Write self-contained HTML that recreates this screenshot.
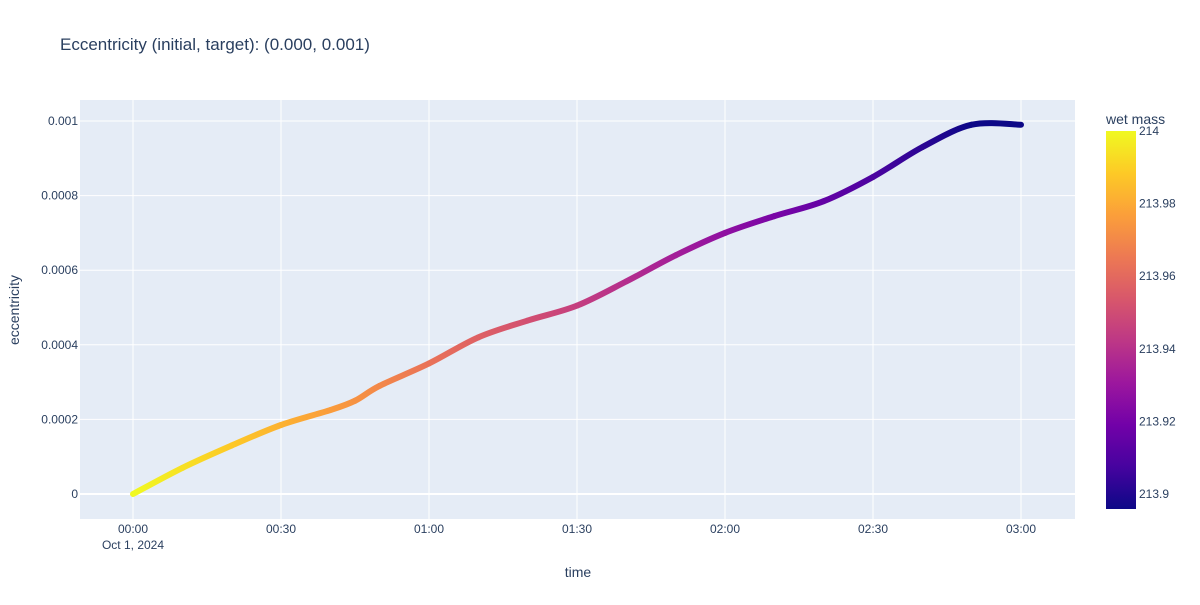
<!DOCTYPE html>
<html><head><meta charset="utf-8"><style>
body{margin:0;background:#fff;font-family:"Liberation Sans","DejaVu Sans",sans-serif}
svg text{font-family:"Liberation Sans","DejaVu Sans",sans-serif;fill:#2a3f5f}
</style></head><body>
<svg id="c" width="1200" height="600" xmlns="http://www.w3.org/2000/svg">
<defs>
<linearGradient id="cbg" x1="0" y1="1" x2="0" y2="0">
<stop offset="0" stop-color="#0d0887"/><stop offset="0.111" stop-color="#46039f"/><stop offset="0.222" stop-color="#7201a8"/><stop offset="0.333" stop-color="#9c179e"/><stop offset="0.444" stop-color="#bd3786"/><stop offset="0.556" stop-color="#d8576b"/><stop offset="0.667" stop-color="#ed7953"/><stop offset="0.778" stop-color="#fb9f3a"/><stop offset="0.889" stop-color="#fdca26"/><stop offset="1" stop-color="#f0f921"/>
</linearGradient>
</defs>
<text x="60" y="50" font-size="17">Eccentricity (initial, target): (0.000, 0.001)</text>
<rect x="80" y="100" width="995" height="419" fill="#e5ecf6"/>
<g id="grid"></g>
<g id="marks"></g>
<g id="axes"></g>
<text x="578" y="577" font-size="14" text-anchor="middle">time</text>
<text transform="translate(19,310) rotate(-90)" font-size="14" text-anchor="middle">eccentricity</text>
<text x="1106" y="124" font-size="14">wet mass</text>
<rect x="1106" y="131" width="30" height="378" fill="url(#cbg)"/>
<g id="cbticks"></g>
</svg>
<script>
const times=[0,10,20,30,40,45,50,60,70,80,90,100,110,120,130,140,150,160,170,180];
const ecc=[0,0.00007,0.00013,0.000185,0.000225,0.00025,0.00029,0.00035,0.00042,0.000465,0.000505,0.00057,0.00064,0.0007,0.000745,0.000785,0.00085,0.00093,0.00099,0.00099];
const mass=[214,213.994,213.988,213.982,213.976,213.973,213.970,213.963,213.957,213.951,213.945,213.939,213.933,213.927,213.921,213.915,213.909,213.902,213.896,213.896];
const xTickMin=[0,30,60,90,120,150,180];
const xTickLab=["00:00","00:30","01:00","01:30","02:00","02:30","03:00"];
const yTicks=[0,0.0002,0.0004,0.0006,0.0008,0.001];
const yTickLab=["0","0.0002","0.0004","0.0006","0.0008","0.001"];
const cbTicks=[213.9,213.92,213.94,213.96,213.98,214];
const cbLab=["213.9","213.92","213.94","213.96","213.98","214"];
const NS="http://www.w3.org/2000/svg";
const X=t=>133+t*(148/30);
const Y=v=>494-v*373000;
const cmin=213.8959,cmax=214;
const CB=m=>509-(m-cmin)/(cmax-cmin)*378;
const stops=["#0d0887","#46039f","#7201a8","#9c179e","#bd3786","#d8576b","#ed7953","#fb9f3a","#fdca26","#f0f921"];
function hex(h){return [1,3,5].map(i=>parseInt(h.substr(i,2),16));}
function col(m){let f=Math.max(0,Math.min(1,(m-cmin)/(cmax-cmin)))*(stops.length-1);let i=Math.min(Math.floor(f),stops.length-2),r=f-i;let a=hex(stops[i]),b=hex(stops[i+1]);return "rgb("+a.map((v,k)=>Math.round(v+(b[k]-v)*r)).join(",")+")";}
function el(tag,attrs,parent){const e=document.createElementNS(NS,tag);for(const k in attrs)e.setAttribute(k,attrs[k]);parent.appendChild(e);return e;}
const grid=document.getElementById('grid'),axes=document.getElementById('axes'),marks=document.getElementById('marks'),cbt=document.getElementById('cbticks');
xTickMin.forEach((t,i)=>{
 const g=el('line',{x1:X(t),x2:X(t),y1:100,y2:519,stroke:'#fff','stroke-width':1},grid);
 
 
 const tx=el('text',{x:X(t),y:533,'font-size':12,'text-anchor':'middle'},axes);tx.textContent=xTickLab[i];
 
 
});
const d=el('text',{x:X(0),y:549,'font-size':12,'text-anchor':'middle'},axes);d.textContent="Oct 1, 2024";


yTicks.forEach((v,i)=>{
 const g=el('line',{x1:80,x2:1075,y1:Y(v),y2:Y(v),stroke:'#fff','stroke-width':v===0?2:1},grid);
 
 
 const tx=el('text',{x:78,y:Y(v)+4,'font-size':12,'text-anchor':'end'},axes);tx.textContent=yTickLab[i];
 
 
});
const defs=document.querySelector('defs');
// smooth path per segment via Catmull-Rom
const P=times.map((t,i)=>[X(t),Y(ecc[i])]);
for(let i=0;i<P.length-1;i++){
 const p0=P[Math.max(0,i-1)],p1=P[i],p2=P[i+1],p3=P[Math.min(P.length-1,i+2)];
 const c1=[p1[0]+(p2[0]-p0[0])/6,p1[1]+(p2[1]-p0[1])/6],c2=[p2[0]-(p3[0]-p1[0])/6,p2[1]-(p3[1]-p1[1])/6];
 const gid='g'+i;
 const lg=el('linearGradient',{id:gid,gradientUnits:'userSpaceOnUse',x1:p1[0],y1:p1[1],x2:p2[0],y2:p2[1]},defs);
 el('stop',{offset:0,'stop-color':col(mass[i])},lg);el('stop',{offset:1,'stop-color':col(mass[i+1])},lg);
 const s=el('path',{d:`M${p1[0]},${p1[1]} C${c1[0]},${c1[1]} ${c2[0]},${c2[1]} ${p2[0]},${p2[1]}`,fill:'none',stroke:`url(#${gid})`,'stroke-width':6,'stroke-linecap':'round'},marks);
 
 
}
cbTicks.forEach((m,i)=>{
 const tx=el('text',{x:1139,y:CB(m)+4,'font-size':12},cbt);tx.textContent=cbLab[i];
 
 
});
</script>
</body></html>
